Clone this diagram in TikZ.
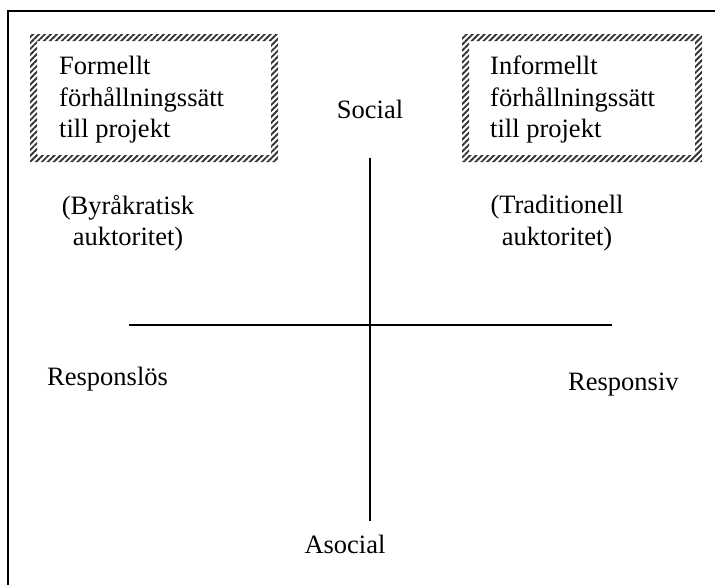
\documentclass[tikz,border=0pt]{standalone}
\usepackage{fontspec}
\setmainfont{Liberation Serif}
\usetikzlibrary{patterns.meta}
\begin{document}
\begin{tikzpicture}[x=1pt,y=-1pt,
  lbl/.style={inner sep=0pt,font=\fontsize{26.5}{31.5}\selectfont},
  lblc/.style={lbl,align=center},
  boxtext/.style={lbl,align=left,anchor=north west},
  axis/.style={line width=1.6pt},
  frame/.style={line width=2pt},
  hatch/.style={even odd rule,draw=none,
    pattern={Lines[angle=45,distance=4.2pt,line width=1.9pt]},pattern color=black!80}]
  \useasboundingbox (0,0) rectangle (715,584);
  % outer frame, running off the right and bottom edges
  \draw[frame] (8,600) -- (8,11) -- (730,11);
  % hatched borders of the two boxes
  \fill[hatch] (30,34) rectangle (278,162) (37,41) rectangle (271,155);
  \fill[hatch] (462,34) rectangle (702,162) (469,41) rectangle (695,155);
  \node[boxtext] (formal) at (59,56) {Formellt\\förhållningssätt\\till projekt};
  \node[boxtext] (informal) at (490,56) {Informellt\\förhållningssätt\\till projekt};
  % axis labels
  \node[lbl,anchor=base] (social) at (370,118) {Social};
  \node[lbl,anchor=base] (asocial) at (345,553) {Asocial};
  \node[lbl,anchor=base west] (rl) at (47,385) {Responslös};
  \node[lbl,anchor=base west] (rv) at (568,390) {Responsiv};
  \node[lblc,anchor=north] (byr) at (128,195) {(Byråkratisk\\auktoritet)};
  \node[lblc,anchor=north] (trad) at (557,195) {(Traditionell\\auktoritet)};
  % axes
  \coordinate (top) at (370,158);
  \coordinate (bot) at (370,521);
  \coordinate (lft) at (129,325);
  \coordinate (rgt) at (612,325);
  \draw[axis] (top) -- (bot);
  \draw[axis] (lft) -- (rgt);
\end{tikzpicture}
\end{document}
